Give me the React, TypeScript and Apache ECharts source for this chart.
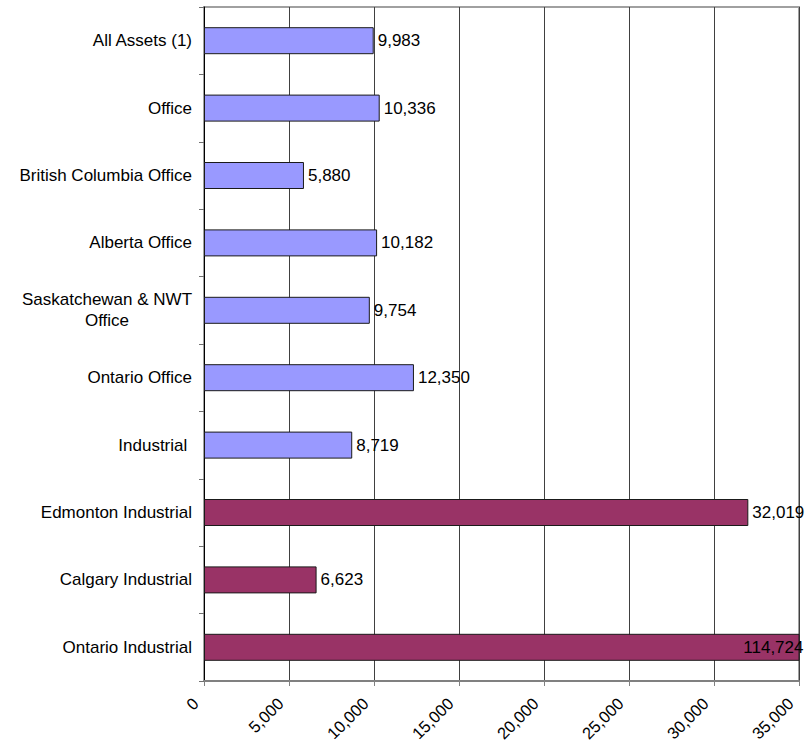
import React, { useEffect, useRef } from "react";
import * as echarts from "echarts";

const categories = [
  "All Assets (1)",
  "Office",
  "British Columbia Office",
  "Alberta Office",
  "Saskatchewan & NWT\nOffice",
  "Ontario Office",
  "Industrial ",
  "Edmonton Industrial",
  "Calgary Industrial",
  "Ontario Industrial",
];
const values = [9983, 10336, 5880, 10182, 9754, 12350, 8719, 32019, 6623, 114724];
const groups = ["office", "office", "office", "office", "office", "office", "office", "industrial", "industrial", "industrial"];
const xTicks = [0, 5000, 10000, 15000, 20000, 25000, 30000, 35000];

const FONT = "'Liberation Sans', Arial, sans-serif";

export default function App() {
  const ref = useRef<HTMLDivElement>(null);
  useEffect(() => {
    document.body.style.margin = "0";
    if (!ref.current) return;
    const chart = echarts.init(ref.current, null, { renderer: "svg" });
    const colorFor: Record<string, string> = { office: "#9999FF", industrial: "#993366" };
    const xMax = xTicks[xTicks.length - 1];
    chart.setOption({
      animation: false,
      grid: {
        left: 204,
        right: 12,
        top: 7,
        bottom: 67,
        containLabel: false,
        outerBoundsMode: "none",
        show: true,
        borderColor: "#a0a0a0",
        borderWidth: 2,
        backgroundColor: "transparent",
      },
      xAxis: {
        type: "value",
        min: xTicks[0],
        max: xMax,
        interval: xTicks[1] - xTicks[0],
        axisLine: { show: true, lineStyle: { color: "#808080", width: 2 } },
        axisTick: { show: true, length: 5, lineStyle: { color: "#808080", width: 1 } },
        splitLine: { show: true, lineStyle: { color: "#404040", width: 1 } },
        axisLabel: {
          rotate: 45,
          margin: 11,
          padding: [0, 12, 0, 0],
          fontSize: 16.5,
          fontFamily: FONT,
          color: "#000",
          formatter: (v: number) => v.toLocaleString("en-US"),
        },
      },
      yAxis: {
        type: "category",
        data: categories,
        inverse: true,
        axisLine: { show: true, lineStyle: { color: "#000", width: 1 } },
        axisTick: { show: true, length: 5, lineStyle: { color: "#707070" } },
        splitLine: { show: false },
        axisLabel: {
          margin: 12,
          fontSize: 17,
          fontFamily: FONT,
          color: "#000",
          formatter: (v: string) =>
            v.indexOf("\n") >= 0
              ? v
                  .split("\n")
                  .map((s) => "{c|" + s + "}")
                  .join("\n")
              : v,
          rich: {
            c: { align: "center", fontSize: 17, fontFamily: FONT, color: "#000", lineHeight: 21 },
          },
        },
      },
      series: [
        {
          type: "bar",
          barWidth: 27,
          clip: true,
          data: values.map((v, i) => ({
            value: v,
            itemStyle: { color: colorFor[groups[i]], borderColor: "#1a1a1a", borderWidth: 1 },
            label:
              v > xMax
                ? { position: "insideRight", distance: -4 }
                : { position: "right", distance: 4 },
          })),
          label: {
            show: true,
            fontSize: 17,
            fontFamily: FONT,
            color: "#000",
            formatter: (p: any) => Number(p.value).toLocaleString("en-US"),
          },
        },
      ],
    });
    return () => chart.dispose();
  }, []);
  return <div ref={ref} style={{ width: 811, height: 748 }} />;
}
